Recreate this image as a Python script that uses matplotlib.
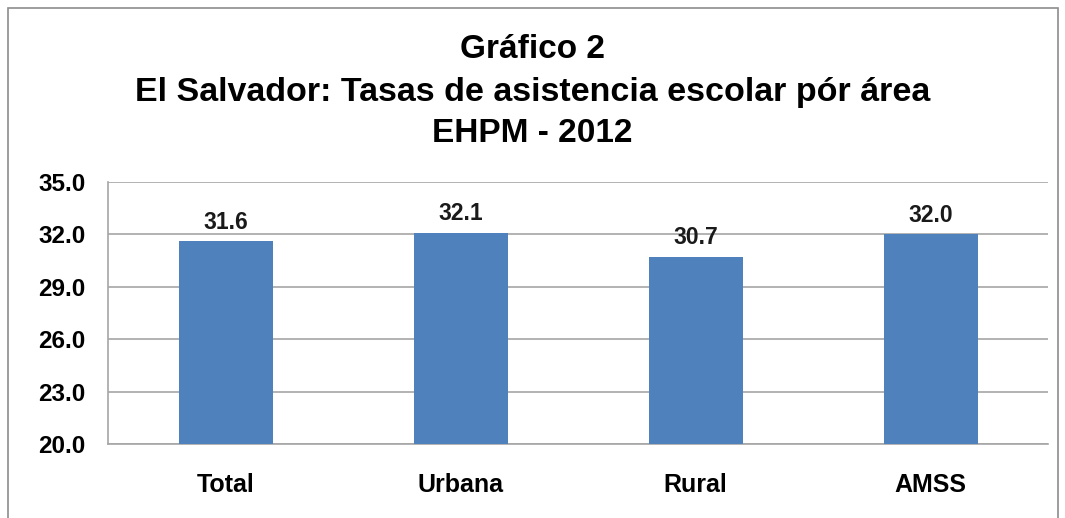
import matplotlib.pyplot as plt
from matplotlib.patches import Rectangle

# data
areas = ['Total', 'Urbana', 'Rural', 'AMSS']
tasas = [31.6, 32.1, 30.7, 32.0]
yticks = [20.0, 23.0, 26.0, 29.0, 32.0, 35.0]

plt.rcParams['font.family'] = ['Liberation Sans', 'DejaVu Sans']

fig = plt.figure(figsize=(10.65, 5.18), dpi=100)
ax = fig.add_axes([108 / 1065, 1 - 444 / 518, 940 / 1065, 262 / 518])

x = range(len(areas))
ax.bar(x, [v - 20 for v in tasas], bottom=20, width=0.4, color='#4f81bd', zorder=3)
for xi, v in zip(x, tasas):
    ax.text(xi, v + 0.45, f'{v:.1f}', ha='center', va='bottom',
            fontsize=16.5, fontweight='bold', color='#1a1a1a')

ax.set_xlim(-0.5, len(areas) - 0.5)
ax.set_ylim(20, 35)
ax.set_yticks(yticks)
ax.set_yticklabels([f'{t:.1f}' for t in yticks], fontsize=17.5, fontweight='bold')
ax.set_xticks(list(x))
ax.set_xticklabels(areas, fontsize=18, fontweight='bold')
ax.tick_params(axis='y', length=0, pad=16)
ax.tick_params(axis='x', length=0, pad=21)

ax.grid(axis='y', color='#a6a6a6', lw=1.2, zorder=0)
for s in ['top', 'right']:
    ax.spines[s].set_visible(False)
ax.spines['left'].set_color('#a6a6a6')
ax.spines['bottom'].set_color('#a6a6a6')
ax.spines['left'].set_linewidth(1.2)
ax.spines['bottom'].set_linewidth(1.2)

fig.text(0.5, 1 - 50 / 518, 'Gráfico 2', ha='center', va='center',
         fontsize=24, fontweight='bold')
fig.text(0.5, 1 - 93 / 518, 'El Salvador: Tasas de asistencia escolar pór área',
         ha='center', va='center', fontsize=24.5, fontweight='bold')
fig.text(0.5, 1 - 133 / 518, 'EHPM - 2012', ha='center', va='center',
         fontsize=24, fontweight='bold')

# outer chart border
fig.patches.append(Rectangle((8 / 1065, -0.01), 1050 / 1065, 1 - 8 / 518 + 0.01,
                             transform=fig.transFigure, fill=False,
                             ec='#8c8c8c', lw=1.2))

fig.savefig('out.png', dpi=100)
